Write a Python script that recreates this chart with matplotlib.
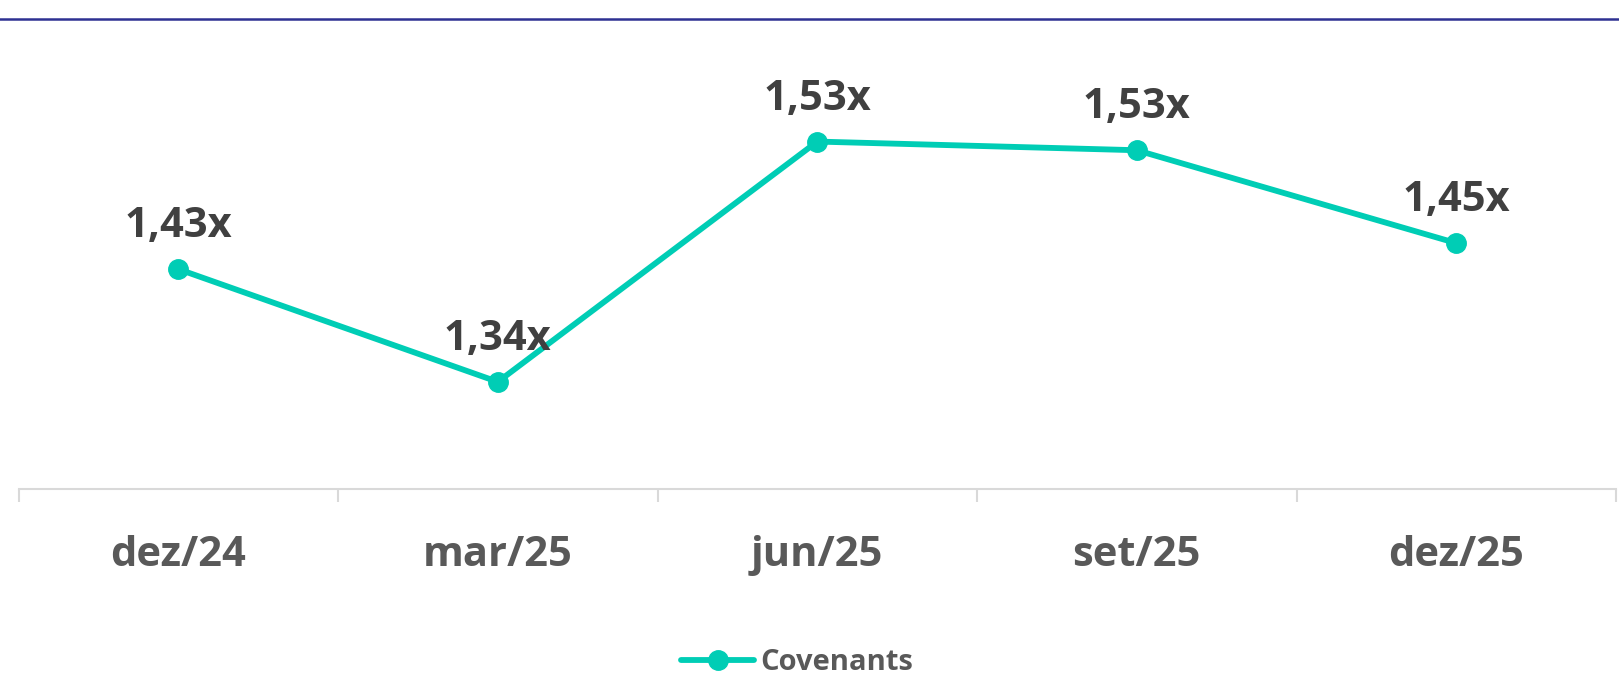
import numpy as np
import matplotlib
matplotlib.use("Agg")
from matplotlib import pyplot as plt
from matplotlib.lines import Line2D

periodos = ["dez/24", "mar/25", "jun/25", "set/25", "dez/25"]
covenants = [1.432, 1.341, 1.535, 1.528, 1.453]
rotulos = ["1,43x", "1,34x", "1,53x", "1,53x", "1,45x"]

COR_LINHA = "#00CDB5"
COR_TEXTO = "#404040"
COR_EIXO = "#595959"
COR_GRADE = "#d9d9d9"

plt.rcParams["font.family"] = ["Open Sans", "DejaVu Sans"]

fig = plt.figure(figsize=(16.19, 6.80), dpi=100)
ax = fig.add_axes([18.6 / 1619, 191 / 680, (1616 - 18.6) / 1619, 449 / 680])

x = np.arange(len(periodos))
ax.plot(x, covenants, color=COR_LINHA, linewidth=4.2, marker="o",
        markersize=14, label="Covenants", solid_capstyle="round")

for xi, yi, txt in zip(x, covenants, rotulos):
    ax.annotate(txt, (xi, yi), xytext=(0, 23), textcoords="offset points",
                ha="center", va="baseline", fontsize=30, fontweight="bold",
                color=COR_TEXTO)

ax.set_xlim(-0.5, len(periodos) - 0.5)
ax.set_ylim(1.2545, 1.617)

ax.set_xticks(x)
ax.set_xticklabels(periodos, fontsize=30, fontweight="bold", color=COR_EIXO)
ax.set_xticks(np.arange(-0.5, len(periodos), 1), minor=True)
ax.tick_params(axis="x", which="major", length=0, pad=33)
ax.tick_params(axis="x", which="minor", length=9.5, width=1.5, color=COR_GRADE)
ax.set_yticks([])

for lado in ["top", "left", "right"]:
    ax.spines[lado].set_visible(False)
ax.spines["bottom"].set_color(COR_GRADE)
ax.spines["bottom"].set_linewidth(1.5)

# linha azul no topo
fig.add_artist(Line2D([0, 1], [1 - 19 / 680, 1 - 19 / 680], transform=fig.transFigure,
                      color="#2e3192", linewidth=1.8))

fig.legend(loc="center", bbox_to_anchor=(797 / 1619, 1 - 663 / 680), frameon=False,
           prop={"size": 21, "weight": "bold"}, labelcolor=COR_EIXO,
           handlelength=2.5, handletextpad=0.2, borderpad=0)

fig.savefig("out.png", dpi=100)
